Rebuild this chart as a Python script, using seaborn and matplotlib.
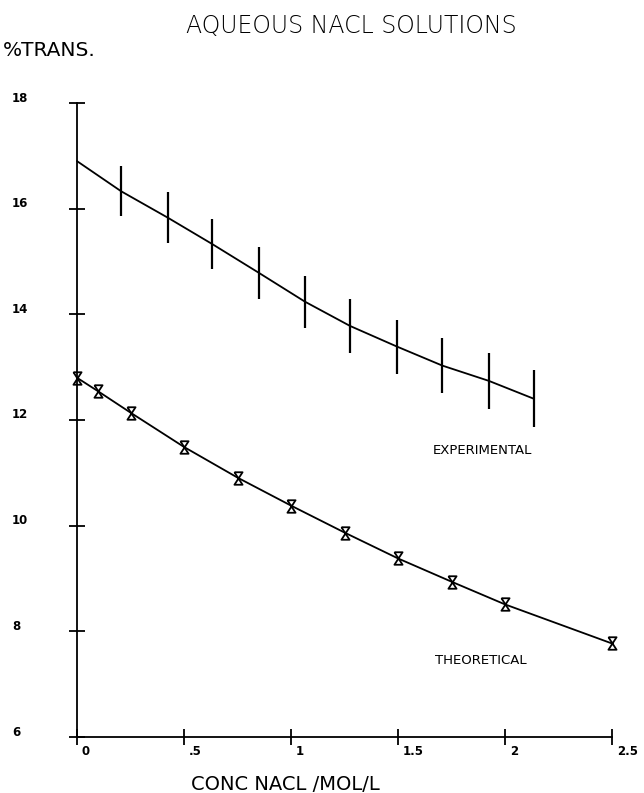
import matplotlib
matplotlib.use("Agg")
import matplotlib.pyplot as plt
import matplotlib.transforms as mtransforms
import seaborn as sns
import pandas as pd

# ---- data ----
exp_conc = [0.0, 0.206, 0.424, 0.632, 0.852, 1.065, 1.276, 1.495, 1.707, 1.925, 2.136]
exp_trans = [16.9, 16.33, 15.83, 15.33, 14.78, 14.24, 13.78, 13.39, 13.03, 12.74, 12.40]
exp_err = [0.47, 0.47, 0.48, 0.48, 0.49, 0.49, 0.51, 0.51, 0.52, 0.53, 0.54]

theo_conc = [0.0, 0.1, 0.25, 0.5, 0.75, 1.0, 1.25, 1.5, 1.75, 2.0, 2.5]
theo_trans = [12.80, 12.54, 12.14, 11.49, 10.91, 10.38, 9.87, 9.38, 8.94, 8.51, 7.77]

x_ticks = [0, 0.5, 1, 1.5, 2, 2.5]
x_tick_labels = ["0", ".5", "1", "1.5", "2", "2.5"]
y_ticks = [6, 8, 10, 12, 14, 16, 18]
y_tick_labels = ["6", "8", "10", "12", "14", "16", "18"]

title = "AQUEOUS NACL SOLUTIONS"
y_label = "%TRANS."
x_label = "CONC NACL /MOL/L"
exp_label = "EXPERIMENTAL"
theo_label = "THEORETICAL"

sns.set_style("white")
plt.rcParams["font.family"] = ["DejaVu Sans"]

W, H = 644, 793
fig = plt.figure(figsize=(W / 100, H / 100), dpi=100)
ax = fig.add_axes([77 / W, 1 - 737 / H, (612 - 77) / W, (737 - 103) / H])

exp_df = pd.DataFrame({"conc": exp_conc, "trans": exp_trans})
theo_df = pd.DataFrame({"conc": theo_conc, "trans": theo_trans})

hourglass = [(-0.65, 1), (0.65, 1), (-0.65, -1), (0.65, -1), (-0.65, 1)]

sns.lineplot(data=exp_df, x="conc", y="trans", ax=ax, color="black",
             linewidth=1.3, sort=False, clip_on=False)
ax.errorbar(exp_conc[1:], exp_trans[1:], yerr=exp_err[1:], fmt="none",
            ecolor="black", elinewidth=1.6, capsize=0)
sns.lineplot(data=theo_df, x="conc", y="trans", ax=ax, color="black",
             linewidth=1.3, sort=False, marker=hourglass, markersize=9,
             markerfacecolor="none", markeredgecolor="black",
             markeredgewidth=1.3, clip_on=False)

ax.set_xlim(0, 2.5)
ax.set_ylim(6, 18)
for s in ["top", "right"]:
    ax.spines[s].set_visible(False)
for s in ["left", "bottom"]:
    ax.spines[s].set_linewidth(1.3)
    ax.spines[s].set_color("black")

ax.set_xticks(x_ticks)
ax.set_yticks(y_ticks)
ax.set_xticklabels([])
ax.set_yticklabels([])
ax.tick_params(axis="both", direction="inout", length=11, width=1.3,
               color="black", bottom=True, left=True)
ax.set_xlabel("")
ax.set_ylabel("")

tick_font = dict(fontsize=8.5, fontweight="bold", color="black")
# x tick labels: right of tick, below axis
xoff = mtransforms.ScaledTranslation(5 / 100, -8 / 100, fig.dpi_scale_trans)
for v, t in zip(x_ticks, x_tick_labels):
    ax.text(v, 0, t, transform=ax.get_xaxis_transform() + xoff,
            ha="left", va="top", **tick_font)
# y tick labels: left column
yoff = mtransforms.ScaledTranslation(0, 5 / 100, fig.dpi_scale_trans)
for v, t in zip(y_ticks, y_tick_labels):
    ax.text((12 - 77) / (612 - 77), v, t,
            transform=ax.get_yaxis_transform() + yoff,
            ha="left", va="center", **tick_font)

fig.text(351 / W, 1 - 26 / H, title, ha="center", va="center",
         fontsize=17, fontweight="light", color="black")
fig.text(3 / W, 1 - 51 / H, y_label, ha="left", va="center",
         fontsize=14.5, color="black")
fig.text(285 / W, 1 - 784 / H, x_label, ha="center", va="center",
         fontsize=14, color="black")

ax.text(482 / W, 1 - 450 / H, exp_label, transform=fig.transFigure,
        ha="center", va="center", fontsize=9.5, color="black")
ax.text(481 / W, 1 - 661 / H, theo_label, transform=fig.transFigure,
        ha="center", va="center", fontsize=9.5, color="black")

fig.savefig("out.png", dpi=100, facecolor="white")
